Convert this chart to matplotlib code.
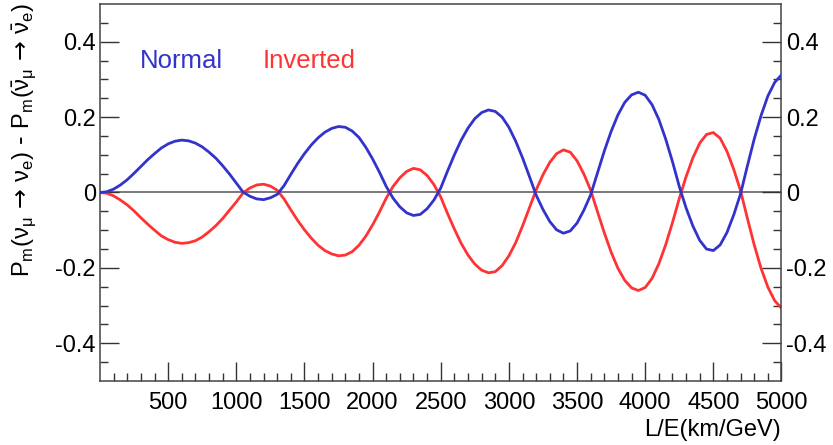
import numpy as np
import matplotlib
matplotlib.use("Agg")
import matplotlib.pyplot as plt

plt.rcParams['font.family'] = ['Liberation Sans', 'DejaVu Sans']
plt.rcParams['mathtext.fontset'] = 'custom'
plt.rcParams['mathtext.rm'] = 'Liberation Sans'
plt.rcParams['mathtext.it'] = 'Liberation Sans'
plt.rcParams['mathtext.bf'] = 'Liberation Sans:bold'

# L/E grid (km/GeV)
le = list(range(0, 5001, 50))

normal = [0.000, 0.002, 0.009, 0.020, 0.034, 0.051, 0.069, 0.087, 0.103, 0.118,
          0.129, 0.136, 0.139, 0.137, 0.131, 0.121, 0.107, 0.091, 0.071, 0.049,
          0.025, 0.001, -0.010, -0.017, -0.019, -0.014, -0.005, 0.018, 0.048, 0.077,
          0.103, 0.126, 0.145, 0.160, 0.170, 0.175, 0.173, 0.163, 0.146, 0.120,
          0.089, 0.054, 0.016, -0.015, -0.038, -0.054, -0.061, -0.058, -0.043, -0.020,
          0.012, 0.057, 0.100, 0.139, 0.171, 0.196, 0.212, 0.219, 0.215, 0.200,
          0.173, 0.136, 0.092, 0.043, -0.007, -0.045, -0.077, -0.099, -0.108, -0.102,
          -0.081, -0.047, -0.006, 0.052, 0.110, 0.162, 0.206, 0.239, 0.259, 0.266,
          0.258, 0.233, 0.194, 0.142, 0.082, 0.016, -0.041, -0.089, -0.127, -0.150,
          -0.154, -0.139, -0.106, -0.059, -0.003, 0.071, 0.142, 0.204, 0.256, 0.292,
          0.312]

inverted = [0.000, -0.002, -0.009, -0.020, -0.033, -0.049, -0.067, -0.084, -0.100, -0.115,
            -0.125, -0.132, -0.135, -0.133, -0.128, -0.118, -0.104, -0.088, -0.069, -0.047,
            -0.025, -0.001, 0.012, 0.020, 0.022, 0.017, 0.006, -0.017, -0.046, -0.074,
            -0.099, -0.121, -0.140, -0.154, -0.163, -0.168, -0.166, -0.157, -0.140, -0.116,
            -0.086, -0.052, -0.015, 0.016, 0.039, 0.056, 0.064, 0.060, 0.045, 0.021,
            -0.012, -0.056, -0.097, -0.135, -0.166, -0.190, -0.206, -0.213, -0.210, -0.194,
            -0.168, -0.133, -0.089, -0.041, 0.007, 0.047, 0.080, 0.103, 0.113, 0.107,
            0.084, 0.049, 0.006, -0.051, -0.107, -0.158, -0.201, -0.233, -0.253, -0.260,
            -0.252, -0.228, -0.189, -0.139, -0.080, -0.016, 0.042, 0.092, 0.131, 0.154,
            0.159, 0.144, 0.109, 0.061, 0.004, -0.069, -0.139, -0.201, -0.251, -0.287,
            -0.307]

xticks = [500, 1000, 1500, 2000, 2500, 3000, 3500, 4000, 4500, 5000]
yticks = [-0.4, -0.2, 0, 0.2, 0.4]
ytick_labels = ['-0.4', '-0.2', '0', '0.2', '0.4']

blue = '#3333cc'
red = '#ff3333'
fs = 17

fig = plt.figure(figsize=(8.33, 4.45), dpi=100)
ax = fig.add_axes([100 / 833, 1 - 381 / 445, 681.5 / 833, 377 / 445])

ax.axhline(0, color='#555555', lw=1.1, zorder=1)
ax.plot(le, normal, color=blue, lw=2.0, zorder=3)
ax.plot(le, inverted, color=red, lw=2.0, zorder=2)

ax.set_xlim(0, 5000)
ax.set_ylim(-0.5, 0.5)

ax.set_xticks(xticks)
ax.set_xticklabels([str(t) for t in xticks])
ax.set_xticks(np.arange(100, 5000, 100), minor=True)
ax.set_yticks(yticks)
ax.set_yticklabels(ytick_labels)
ax.set_yticks(np.arange(-0.45, 0.5, 0.05), minor=True)

ax.tick_params(axis='x', which='major', direction='in', length=14, width=1,
               color='#333333', labelsize=fs, pad=8, top=False)
ax.tick_params(axis='x', which='minor', direction='in', length=6, width=1,
               color='#333333', top=False)
ax.tick_params(axis='y', which='major', direction='in', length=14, width=1,
               color='#333333', labelsize=fs, pad=3, left=True, right=True,
               labelleft=True, labelright=True)
ax.tick_params(axis='y', which='minor', direction='in', length=6, width=1,
               color='#333333', left=True, right=True)

for sp in ax.spines.values():
    sp.set_color('#444444')
    sp.set_linewidth(1.1)

# math parts in Liberation Sans, plain arrows and hyphen from DejaVu Sans
ylab = (r'$\mathrm{P_m(\nu_\mu}$ → $\mathrm{\nu_e)}$ - '
        r'$\mathrm{P_m(\bar{\nu}_\mu}$ → $\mathrm{\bar{\nu}_e)}$')

fig.text(781 / 833, 1 - 430 / 445, 'L/E(km/GeV)', ha='right', va='center', fontsize=fs)
fig.text(24 / 833, 1 - 3 / 445, ylab, rotation=90, ha='center', va='top', fontsize=fs,
         family=['DejaVu Sans'])

fig.text(140 / 833, 1 - 61 / 445, 'Normal', color=blue, ha='left', va='center', fontsize=18.5)
fig.text(263 / 833, 1 - 61 / 445, 'Inverted', color=red, ha='left', va='center', fontsize=18.5)

fig.savefig('out.png', dpi=100)
